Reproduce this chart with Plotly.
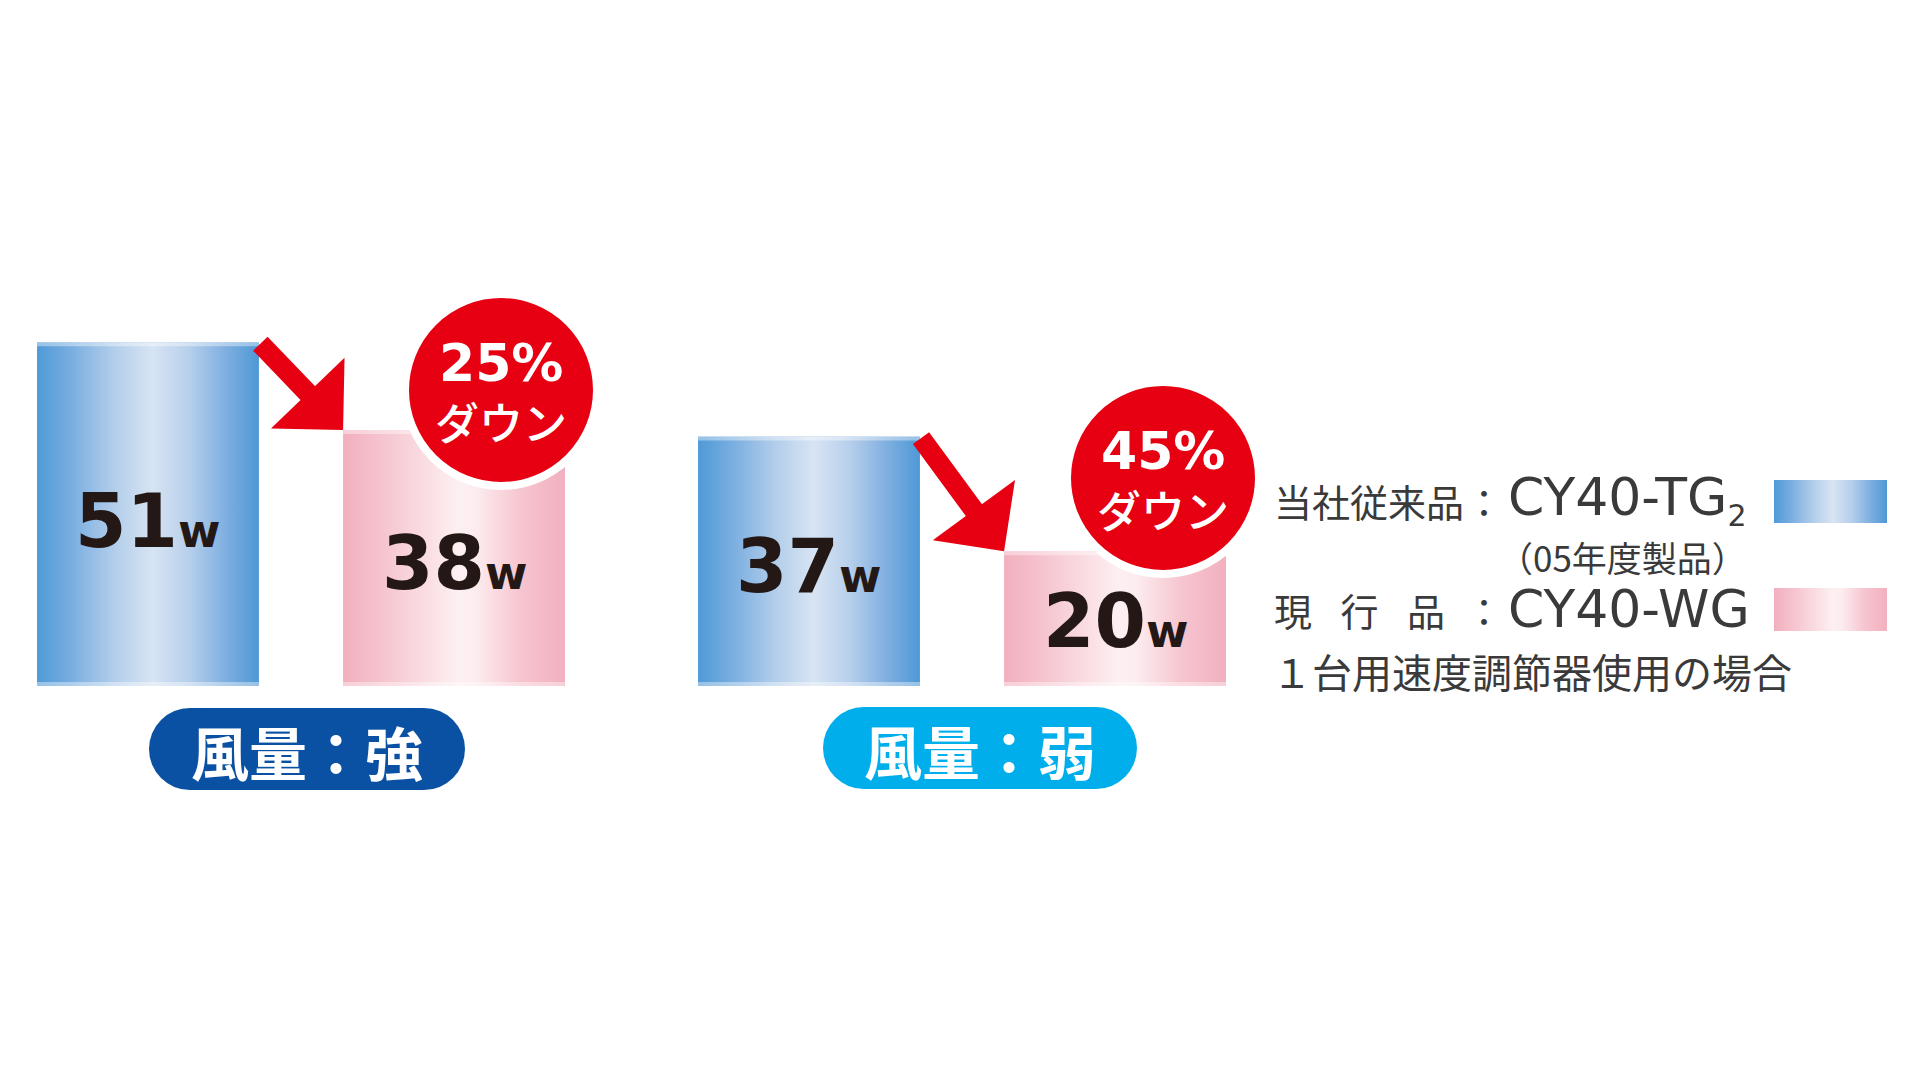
import base64
import plotly.graph_objects as go

# data
categories = ["風量：強", "風量：弱"]
old_watts = [51, 37]  # 当社従来品
new_watts = [38, 20]  # 現行品
drop_labels = ["25%", "45%"]
legend_old = ["当社従来品", "CY40-TG<sub><span style='font-size:30px'>2</span></sub>"]
legend_old_note = "（05年度製品）"
legend_new = ["現\u2002\u2005行\u2002\u2005品", "CY40-WG"]
footnote = "１台用速度調節器使用の場合"

W, H = 1920, 1080
PX_PER_W = 6.74  # pixels per watt
BASE_PX = 686  # pixel row of 0 W
CAT_PX = [301.0, 962.0]
BARGAP = 0.074
GROUPGAP = 0.275

RED = "#E60012"
TEXT = "#231815"
GRAY = "#3a3a3a"
PILL_COLORS = ["#0A50A3", "#00AEEB"]

BLUE_STOPS = [(0, "#4f9ad7"), (0.15, "#78ade0"), (0.35, "#b3ceeb"), (0.52, "#d7e4f3"),
              (0.68, "#b8d0ec"), (0.85, "#7fafe0"), (1, "#4e99d6")]
PINK_STOPS = [(0, "#f2afbe"), (0.2, "#f6c7d1"), (0.52, "#fdf0f2"), (0.6, "#fcecef"),
              (0.8, "#f6c5cf"), (1, "#f2b0bf")]


def fx(px):
    return px / W


def fy(py):
    return 1 - py / H


def gradient_uri(stops):
    stop_tags = "".join(f"<stop offset='{o}' stop-color='{c}'/>" for o, c in stops)
    svg = (
        "<svg xmlns='http://www.w3.org/2000/svg' width='100' height='100' "
        "viewBox='0 0 100 100' preserveAspectRatio='none'>"
        f"<defs><linearGradient id='g' x1='0' y1='0' x2='1' y2='0'>{stop_tags}</linearGradient></defs>"
        "<rect width='100' height='100' fill='url(#g)'/></svg>"
    )
    return "data:image/svg+xml;base64," + base64.b64encode(svg.encode()).decode()


def label(x, y, text, size, color, family="Noto Sans CJK JP", anchor="center", data=False, weight="normal"):
    return dict(x=x, y=y, xref="x" if data else "paper", yref="y" if data else "paper",
                showarrow=False, text=text, xanchor=anchor, yanchor="middle",
                font=dict(family=family, size=size, color=color, weight=weight))


blue_src = gradient_uri(BLUE_STOPS)
pink_src = gradient_uri(PINK_STOPS)

spacing = CAT_PX[1] - CAT_PX[0]
x_lo = -CAT_PX[0] / spacing
x_hi = x_lo + W / spacing
y_lo = -(H - BASE_PX) / PX_PER_W
y_hi = BASE_PX / PX_PER_W

slot = (1 - BARGAP) / 2
bar_w = slot * (1 - GROUPGAP)
rim = 4 / PX_PER_W  # thin pale band at top and bottom of each bar

fig = go.Figure()
fig.add_trace(go.Bar(x=[0, 1], y=old_watts, name="当社従来品", marker=dict(color="#9fc2e8", line=dict(width=0))))
fig.add_trace(go.Bar(x=[0, 1], y=new_watts, name="現行品", marker=dict(color="#f8d3da", line=dict(width=0))))

images = []
annotations = []
shapes = []

for i in range(len(categories)):
    old_c = i - slot / 2
    new_c = i + slot / 2

    # gradient fill laid over each bar
    for c, v, src in [(old_c, old_watts[i], blue_src), (new_c, new_watts[i], pink_src)]:
        images.append(dict(source=src, xref="x", yref="y", x=c - bar_w / 2, y=v,
                           sizex=bar_w, sizey=v, xanchor="left", yanchor="top",
                           sizing="stretch", layer="above"))
        for y0, y1 in [(v - rim, v), (0, rim)]:
            shapes.append(dict(type="rect", xref="x", yref="y", layer="above",
                               x0=c - bar_w / 2, x1=c + bar_w / 2, y0=y0, y1=y1,
                               fillcolor="rgba(255,255,255,0.4)", line=dict(width=0)))
        annotations.append(label(c, v * 0.48, f"{v}<span style='font-size:46px'>w</span>",
                                 74, TEXT, family="DejaVu Sans", data=True, weight="bold"))

    # red arrow from old bar top to new bar top
    annotations.append(dict(x=new_c - bar_w / 2, y=new_watts[i], ax=old_c + bar_w / 2, ay=old_watts[i],
                            xref="x", yref="y", axref="x", ayref="y", text="", showarrow=True,
                            arrowhead=1, arrowsize=0.85, arrowwidth=20, arrowcolor=RED, standoff=0))

# red badges
badge_centers = [(501, 390), (1163, 478)]
badge_r = 96
for (cx, cy), pct in zip(badge_centers, drop_labels):
    shapes.append(dict(type="circle", xref="paper", yref="paper", layer="above",
                       x0=fx(cx - badge_r), x1=fx(cx + badge_r), y0=fy(cy + badge_r), y1=fy(cy - badge_r),
                       fillcolor=RED, line=dict(color="white", width=8)))
    annotations.append(label(fx(cx), fy(cy - 27), pct, 52, "white", family="DejaVu Sans", weight="bold"))
    annotations.append(label(fx(cx), fy(cy + 31), "ダウン", 44, "white", weight=500))

# category pills under the groups
pill_boxes = [(149, 708, 465, 790), (823, 707, 1137, 789)]
for (x0, y0, x1, y1), cat, color in zip(pill_boxes, categories, PILL_COLORS):
    r = (y1 - y0) / 2
    shapes.append(dict(type="rect", xref="paper", yref="paper", layer="above",
                       x0=fx(x0 + r), x1=fx(x1 - r), y0=fy(y1), y1=fy(y0),
                       fillcolor=color, line=dict(width=0)))
    for ex in [x0, x1 - 2 * r]:
        shapes.append(dict(type="circle", xref="paper", yref="paper", layer="above",
                           x0=fx(ex), x1=fx(ex + 2 * r), y0=fy(y1), y1=fy(y0),
                           fillcolor=color, line=dict(width=0)))
    annotations.append(label(fx((x0 + x1) / 2), fy((y0 + y1) / 2 + 2), cat, 58, "white", weight="bold"))

# legend block on the right
LEG_X = 1272
COLON_X = 1484
LEG_X2 = 1506
for row_y, (name, model), src, sw_y in [(500, legend_old, blue_src, 480), (609, legend_new, pink_src, 588)]:
    annotations.append(label(fx(LEG_X), fy(row_y), name, 38, GRAY, anchor="left"))
    annotations.append(label(fx(COLON_X), fy(row_y), "：", 38, GRAY))
    annotations.append(label(fx(LEG_X2), fy(row_y), model, 52, GRAY, family="DejaVu Sans", anchor="left"))
    images.append(dict(source=src, xref="paper", yref="paper", x=fx(1774), y=fy(sw_y),
                       sizex=113 / W, sizey=43 / H, xanchor="left", yanchor="top",
                       sizing="stretch", layer="above"))

annotations.append(label(fx(1622), fy(556), legend_old_note, 35, GRAY))
annotations.append(label(fx(1270), fy(671), footnote, 40, GRAY, anchor="left"))

fig.update_layout(
    width=W,
    height=H,
    margin=dict(l=0, r=0, t=0, b=0),
    paper_bgcolor="white",
    plot_bgcolor="white",
    showlegend=False,
    barmode="group",
    bargap=BARGAP,
    bargroupgap=GROUPGAP,
    xaxis=dict(range=[x_lo, x_hi], visible=False, fixedrange=True),
    yaxis=dict(range=[y_lo, y_hi], visible=False, fixedrange=True),
    images=images,
    shapes=shapes,
    annotations=annotations,
)

fig.write_html("out.html", config={"displayModeBar": False},
               post_script="document.body.style.margin='0';")
